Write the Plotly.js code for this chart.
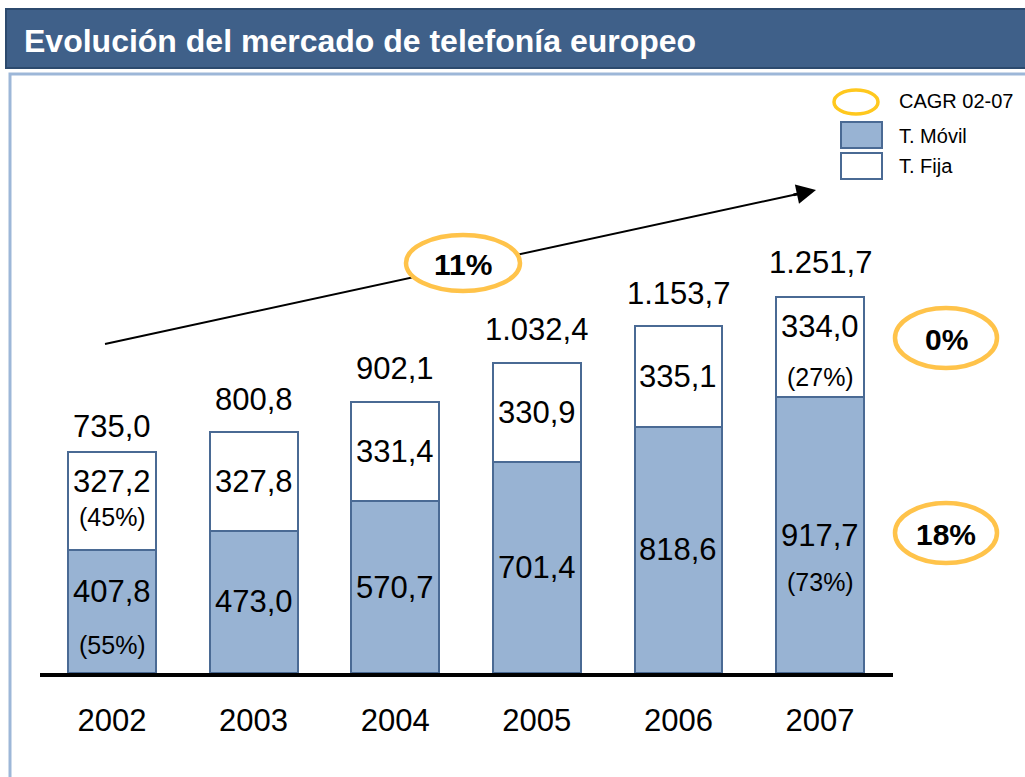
<!DOCTYPE html>
<html>
<head>
<meta charset="utf-8">
<script src="https://cdn.plot.ly/plotly-3.0.1.min.js"></script>
<style>html,body{margin:0;padding:0;background:#fff;}#chart{width:1025px;height:777px;}</style>
</head>
<body>
<div id="chart"></div>
<script>
// ---- data ----
const years = ["2002", "2003", "2004", "2005", "2006", "2007"];
const movil = [407.8, 473.0, 570.7, 701.4, 818.6, 917.7];
const fija = [327.2, 327.8, 331.4, 330.9, 335.1, 334.0];
const totals = [735.0, 800.8, 902.1, 1032.4, 1153.7, 1251.7];
const movilPct = ["(55%)", "", "", "", "", "(73%)"];
const fijaPct = ["(45%)", "", "", "", "", "(27%)"];
const cagrTotal = "11%";
const cagrFija = "0%";
const cagrMovil = "18%";
const title = "Evolución del mercado de telefonía europeo";
const legendLabels = ["CAGR 02-07", "T. Móvil", "T. Fija"];

// ---- style ----
const FONT = "Liberation Sans, Arial, sans-serif";
const BAR_BLUE = "#98B3D3";
const BAR_EDGE = "#4A6A94";
const GOLD = "#FFC34A";
const L = 40, R = 893, T = 80, B = 673, W = 1025, H = 777;
const pxX = x => (x - L) / (R - L);
const pxY = y => (B - y) / (B - T);

function fmt(v) {
  const parts = v.toFixed(1).split(".");
  const intPart = parts[0].replace(/\B(?=(\d{3})+(?!\d))/g, ".");
  return intPart + "," + parts[1];
}

const xs = years.map((_, i) => i);

const traces = [
  {type: "bar", x: xs, y: movil, width: 0.62, marker: {color: BAR_BLUE, line: {color: BAR_EDGE, width: 2}}, hoverinfo: "skip", showlegend: false},
  {type: "bar", x: xs, y: fija, width: 0.62, marker: {color: "#FFFFFF", line: {color: BAR_EDGE, width: 2}}, hoverinfo: "skip", showlegend: false}
];

const ann = [];
const valFont = {family: FONT, size: 31, color: "#000"};
const pctFont = {family: FONT, size: 25, color: "#000"};
// pixel shifts used only when a percentage label sits under the value
const fijaShift = {0: [20, -16], 5: [20, -30]};
const movilShift = {0: [20, -33], 5: [0, -47]};
const totalShift = [25, 33, 33, 33, 33, 34];

const C = {xanchor: "center", yanchor: "middle", showarrow: false};

xs.forEach(i => {
  const fc = movil[i] + fija[i] / 2;
  const mc = movil[i] / 2;
  const fs = fijaShift[i] || [0, 0];
  const ms = movilShift[i] || [0, 0];
  ann.push({...C, x: i, y: fc, text: fmt(fija[i]), font: valFont, yshift: fs[0]});
  if (fijaPct[i]) ann.push({...C, x: i, y: fc, text: fijaPct[i], font: pctFont, yshift: fs[1]});
  ann.push({...C, x: i, y: mc, text: fmt(movil[i]), font: valFont, yshift: ms[0]});
  if (movilPct[i]) ann.push({...C, x: i, y: mc, text: movilPct[i], font: pctFont, yshift: ms[1]});
  ann.push({...C, x: i, y: movil[i] + fija[i], text: fmt(totals[i]), font: valFont, yshift: totalShift[i]});
});

// title
ann.push({xref: "paper", yref: "paper", x: pxX(22), y: pxY(41), xanchor: "left", yanchor: "middle", showarrow: false,
  text: "<b>" + title + "</b>", font: {family: FONT, size: 32, color: "#FFFFFF"}});

// CAGR labels
const bold = {family: FONT, size: 30, color: "#000"};
ann.push({...C, xref: "paper", yref: "paper", x: pxX(463), y: pxY(264), text: "<b>" + cagrTotal + "</b>", font: bold});
ann.push({...C, xref: "paper", yref: "paper", x: pxX(946), y: pxY(339), text: "<b>" + cagrFija + "</b>", font: bold});
ann.push({...C, xref: "paper", yref: "paper", x: pxX(946), y: pxY(534), text: "<b>" + cagrMovil + "</b>", font: bold});

// legend texts
const legFont = {family: FONT, size: 20, color: "#000"};
[[101, 0], [136, 1], [166, 2]].forEach(([yy, k]) => {
  ann.push({xref: "paper", yref: "paper", x: pxX(897), y: pxY(yy), xanchor: "left", yanchor: "middle", showarrow: false, text: legendLabels[k], font: legFont});
});

// arrowhead
ann.push({xref: "paper", yref: "paper", x: pxX(816), y: pxY(190), ax: -24, ay: 5.2, axref: "pixel", ayref: "pixel",
  showarrow: true, arrowhead: 2, arrowsize: 1.5, arrowwidth: 2.6, arrowcolor: "#000", text: "", standoff: 0});

function ellipse(cx, cy, rx, ry, w, col) {
  return {type: "circle", xref: "paper", yref: "paper", x0: pxX(cx - rx), x1: pxX(cx + rx), y0: pxY(cy + ry), y1: pxY(cy - ry),
    fillcolor: "#FFFFFF", line: {color: col || GOLD, width: w}, layer: "above"};
}

const shapes = [
  // header band
  {type: "rect", xref: "paper", yref: "paper", x0: pxX(6), x1: pxX(1040), y0: pxY(68), y1: pxY(9), fillcolor: "#3F6089", line: {color: "#2C4A6E", width: 2}, layer: "below"},
  // content frame
  {type: "rect", xref: "paper", yref: "paper", x0: pxX(10), x1: pxX(1040), y0: pxY(820), y1: pxY(74), fillcolor: "rgba(0,0,0,0)", line: {color: "#9DB7D8", width: 3}, layer: "below"},
  // trend arrow line
  {type: "line", xref: "paper", yref: "paper", x0: pxX(105), y0: pxY(344), x1: pxX(800), y1: pxY(193.5), line: {color: "#000", width: 2}, layer: "above"},
  ellipse(463, 263, 57, 28, 4.5),
  ellipse(946, 338, 51, 30, 4.5),
  ellipse(946, 533, 51, 30, 4.5),
  // legend
  ellipse(856, 102, 22, 12, 3.5, "#FFC81E"),
  {type: "rect", xref: "paper", yref: "paper", x0: pxX(841), x1: pxX(882), y0: pxY(148), y1: pxY(122), fillcolor: BAR_BLUE, line: {color: BAR_EDGE, width: 2}, layer: "above"},
  {type: "rect", xref: "paper", yref: "paper", x0: pxX(841), x1: pxX(882), y0: pxY(179), y1: pxY(153), fillcolor: "#FFFFFF", line: {color: BAR_EDGE, width: 2}, layer: "above"}
];

const layout = {
  width: W, height: H,
  margin: {l: L, r: W - R, t: T, b: H - B},
  paper_bgcolor: "#FFFFFF", plot_bgcolor: "rgba(0,0,0,0)",
  barmode: "stack",
  showlegend: false,
  xaxis: {range: [-0.5085, 5.5155], tickvals: xs, ticktext: years, showgrid: false, zeroline: false,
    showline: true, linecolor: "#000", linewidth: 4, ticks: "", ticklabelstandoff: 17,
    tickfont: {family: FONT, size: 31, color: "#000"}, fixedrange: true},
  yaxis: {range: [0, (B - T) / 0.3007], visible: false, showgrid: false, zeroline: false, fixedrange: true},
  shapes: shapes,
  annotations: ann
};

Plotly.newPlot("chart", traces, layout, {staticPlot: true, displayModeBar: false});
</script>
</body>
</html>
